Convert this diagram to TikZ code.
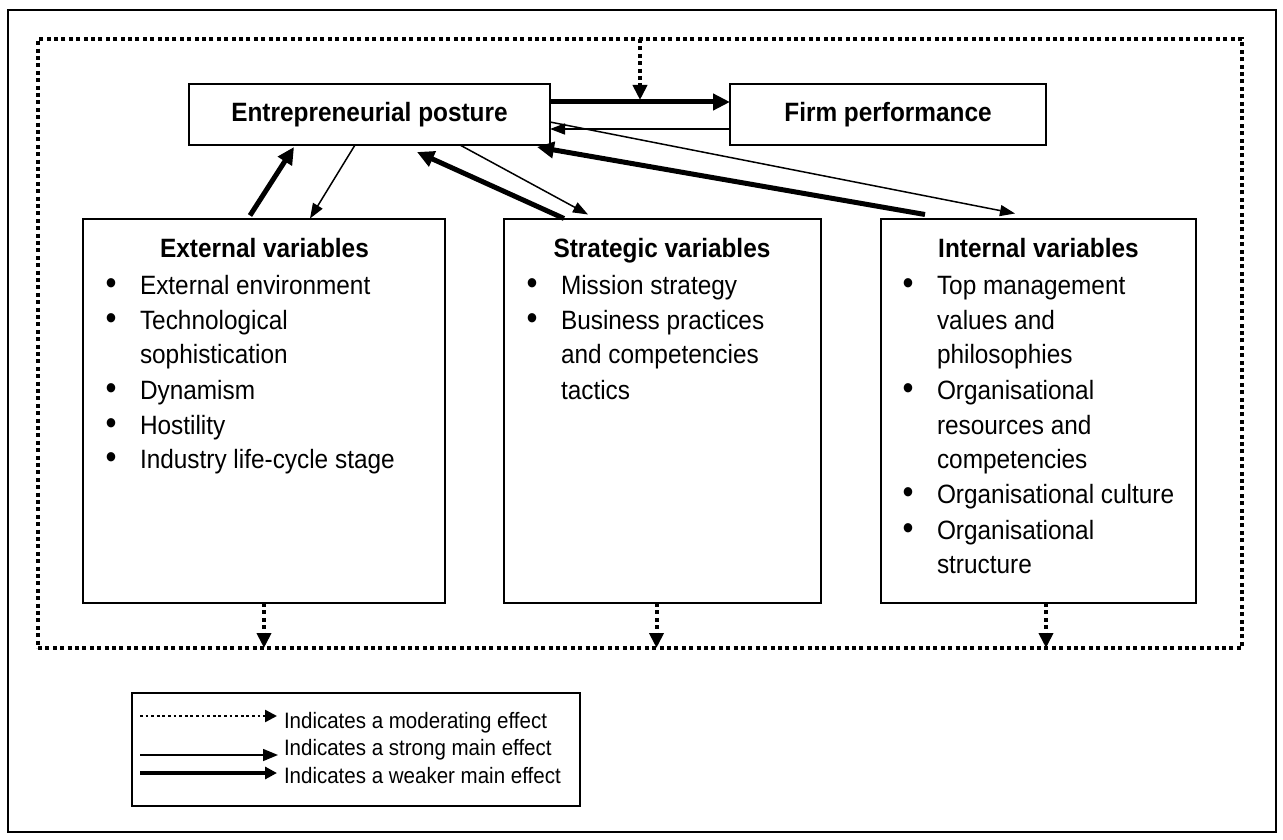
\documentclass[tikz,border=0pt]{standalone}
\usepackage{fontspec}
\setmainfont{Liberation Sans}[FakeStretch=0.92]
\usepackage{array}
\usetikzlibrary{arrows.meta,calc}

% text sizes
\newcommand\bodyfont{\fontsize{26.5}{35}\selectfont}
\newcommand\legendfont{\fontsize{22.3}{27}\selectfont}
% list bullet, centred on the point where it is set
\newcommand\blt{\makebox[0pt]{\fontsize{34}{35}\selectfont •}}

\tikzset{
  box/.style={draw, line width=2pt, inner sep=0pt, outer sep=0pt, rectangle},
  txt/.style={inner sep=0pt, outer sep=0pt},
  modframe/.style={draw, line width=4pt, dash pattern=on 4pt off 3.4pt,
                   line cap=butt, inner sep=0pt, outer sep=0pt, rectangle},
  weak/.style={line width=5pt, -{Triangle[length=17pt,width=16pt]}},
  strong/.style={line width=1.5pt, -{Triangle[length=15pt,width=11pt]}},
  moder/.style={line width=4pt, dash pattern=on 4pt off 3.4pt, line cap=butt,
                -{Triangle[length=15pt,width=14pt]}},
  legmod/.style={line width=2.5pt, dash pattern=on 2.7pt off 2.9pt, line cap=butt,
                 -{Triangle[length=12pt,width=12pt]}},
  legstrong/.style={line width=1.5pt, -{Triangle[length=15pt,width=12pt]}},
  legweak/.style={line width=3.5pt, -{Triangle[length=12pt,width=12pt]}},
}

\begin{document}
\begin{tikzpicture}[x=1pt, y=-1pt, font=\bodyfont]
\useasboundingbox (0,0) rectangle (1283,840);

% outer frame and the moderating frame
\node[box, minimum width=1268pt, minimum height=822pt] (page) at (642,421) {};
\node[modframe, minimum width=1204pt, minimum height=609pt] (frame) at (640,343.5) {};

% top row
\node[box, minimum width=361pt, minimum height=61pt, font=\bodyfont\bfseries]
  (ep) at (369.5,114.5) {Entrepreneurial posture};
\node[box, minimum width=316pt, minimum height=61pt, font=\bodyfont\bfseries]
  (firm) at (888,114.5) {Firm performance};

% three groups of variables
\node[box, minimum width=362pt, minimum height=384.5pt] (ext) at (264,410.75) {};
\node[box, minimum width=317pt, minimum height=384.5pt] (strat) at (662.5,410.75) {};
\node[box, minimum width=315pt, minimum height=384.5pt] (int) at (1038.5,410.75) {};

\node[txt, anchor=base, font=\bodyfont\bfseries] (exttitle) at (264.5,257) {External variables};
\node[txt, anchor=base, font=\bodyfont\bfseries] (strattitle) at (662,257) {Strategic variables};
\node[txt, anchor=base, font=\bodyfont\bfseries] (inttitle) at (1038.5,257) {Internal variables};

\node[txt, anchor=base west] (extlist) at (111,294) {%
  \begin{tabular}[t]{@{}p{29pt}@{}l@{}}
  \blt & External environment\\
  \blt & Technological\\
       & sophistication\\
  \blt & Dynamism\\
  \blt & Hostility\\
  \blt & Industry life-cycle stage
  \end{tabular}};

\node[txt, anchor=base west] (stratlist) at (532,294) {%
  \begin{tabular}[t]{@{}p{29pt}@{}l@{}}
  \blt & Mission strategy\\
  \blt & Business practices\\
       & and competencies\\
       & tactics
  \end{tabular}};

\node[txt, anchor=base west] (intlist) at (908,294) {%
  \begin{tabular}[t]{@{}p{29pt}@{}l@{}}
  \blt & Top management\\
       & values and\\
       & philosophies\\
  \blt & Organisational\\
       & resources and\\
       & competencies\\
  \blt & Organisational culture\\
  \blt & Organisational\\
       & structure
  \end{tabular}};

% main effects between posture and performance
\draw[weak] (ep.east |- 0,102) -- (firm.west |- 0,102);
\draw[strong] (firm.west |- 0,129) -- (ep.east |- 0,129);
\draw[moder] (frame.north) -- (frame.north |- 0,100);

% effects between posture and the variable groups
\draw[weak] ($(ext.north west)+(167,-3)$) -- ($(ep.south west)+(105,2)$);
\draw[strong] ($(ep.south west)+(166,0)$) -- ($(ext.north west)+(227,0)$);
\draw[weak] ($(strat.north west)+(60,0)$) -- ($(ep.south west)+(228,7)$);
\draw[strong] ($(ep.south west)+(271,0)$) -- ($(strat.north west)+(84,-4)$);
\draw[weak] ($(int.north west)+(44,-4)$) -- ($(ep.south east)+(-13,2)$);
\draw[strong] ($(ep.east)+(0,7.5)$) -- ($(int.north west)+(134,-5)$);

% moderating links into the frame
\draw[moder] (ext.south) -- (ext.south |- frame.south);
\draw[moder] ($(strat.south)+(-6,0)$) -- ($(strat.south |- frame.south)+(-6,0)$);
\draw[moder] ($(int.south)+(7.5,0)$) -- ($(int.south |- frame.south)+(7.5,0)$);

% legend
\node[box, minimum width=448pt, minimum height=113pt] (legend) at (356,749.5) {};
\node[txt, anchor=base west, font=\legendfont] (lgmod) at (284,728) {Indicates a moderating effect};
\node[txt, anchor=base west, font=\legendfont] (lgstrong) at (284,755) {Indicates a strong main effect};
\node[txt, anchor=base west, font=\legendfont] (lgweak) at (284,783) {Indicates a weaker main effect};
\draw[legmod] ($(legend.west |- 0,716)+(8,0)$) -- ($(lgmod.west |- 0,716)+(-7,0)$);
\draw[legstrong] ($(legend.west |- 0,755)+(8,0)$) -- ($(lgstrong.west |- 0,755)+(-6,0)$);
\draw[legweak] ($(legend.west |- 0,773)+(8,0)$) -- ($(lgweak.west |- 0,773)+(-7,0)$);
\end{tikzpicture}
\end{document}
